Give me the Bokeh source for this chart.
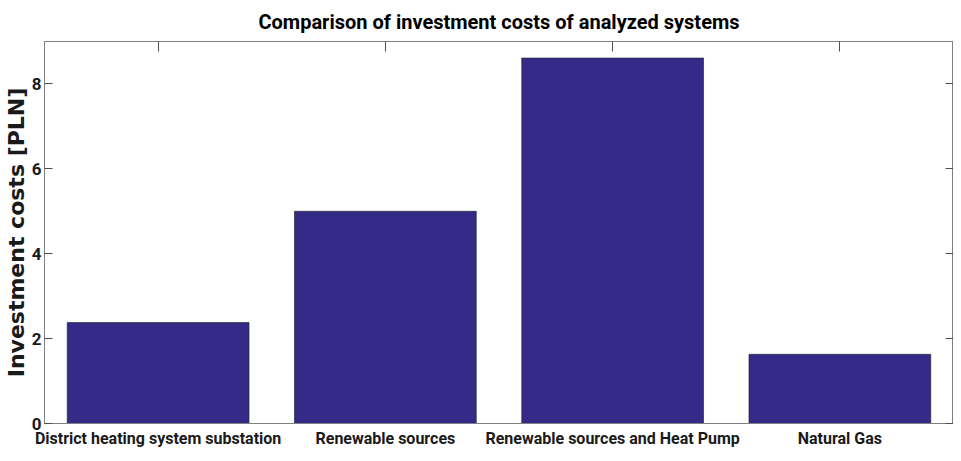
from bokeh.plotting import figure
from bokeh.models import (FactorRange, Range1d, FixedTicker, CustomJSTickFormatter,
                          LinearAxis, CategoricalAxis, Label)
from bokeh.embed import file_html
from bokeh.resources import INLINE

categories = ["District heating system substation", "Renewable sources",
              "Renewable sources and Heat Pump", "Natural Gas"]
costs = [23800, 50000, 86100, 16300]
y_ticks = [0, 20000, 40000, 60000, 80000]
y_max = 90000

BAR = "#352A87"
AX = "#4d4d4d"
FONT = "Roboto"

p = figure(x_range=FactorRange(*categories, range_padding=0),
           y_range=Range1d(0, y_max),
           width=953, height=450, output_backend="svg", toolbar_location=None,
           title="Comparison of investment costs of analyzed systems")

p.vbar(x=categories, top=costs, width=0.8, fill_color=BAR, line_color="#1f1f1f", line_width=0.6)

p.xgrid.visible = False
p.ygrid.visible = False
p.outline_line_color = "#808080"
p.outline_line_width = 1
p.background_fill_color = "white"
p.border_fill_color = "white"

p.title.align = "center"
p.title.text_font = FONT
p.title.text_font_style = "bold"
p.title.text_font_size = "20px"
p.title.text_color = "black"
p.title.standoff = 15

# bottom axis
xa = p.xaxis[0]
xa.major_label_text_font = FONT
xa.major_label_text_font_style = "bold"
xa.major_label_text_font_size = "16px"
xa.major_label_text_color = "#1a1a1a"
xa.major_tick_in = 0
xa.major_tick_out = 0
xa.axis_line_color = "#808080"
xa.major_label_standoff = 5

# left axis
ya = p.yaxis[0]
ya.ticker = FixedTicker(ticks=y_ticks)
ya.formatter = CustomJSTickFormatter(code="return (tick/1e4).toString();")
ya.major_label_text_font = FONT
ya.major_label_text_font_style = "bold"
ya.major_label_text_font_size = "17px"
ya.major_label_text_color = "#1a1a1a"
ya.major_tick_in = 8
ya.major_tick_out = 0
ya.major_tick_line_color = AX
ya.minor_tick_line_color = None
ya.axis_line_color = "#808080"
ya.major_label_standoff = 3
ya.axis_label = "Investment costs [PLN]"
ya.axis_label_text_font = "DejaVu Sans"
ya.axis_label_text_font_style = "bold"
ya.axis_label_text_font_size = "22px"
ya.axis_label_text_color = "#1a1a1a"
ya.axis_label_standoff = 0

# mirrored top and right axes (ticks only)
blank = CustomJSTickFormatter(code="return '';")
top = CategoricalAxis(formatter=blank, major_label_standoff=0, axis_label_standoff=0,
                      major_tick_in=10, major_tick_out=0, major_tick_line_color=AX,
                      axis_line_color="#808080")
p.add_layout(top, "above")
right = LinearAxis(ticker=FixedTicker(ticks=y_ticks), formatter=blank,
                   major_label_standoff=0, axis_label_standoff=0,
                   major_tick_in=8, major_tick_out=0,
                   major_tick_line_color=AX, minor_tick_line_color=None,
                   axis_line_color="#808080")
p.add_layout(right, "right")

p.add_layout(Label(x=0, y=y_max, text="×10", text_font=FONT, text_font_size="15px",
                   text_color="#1a1a1a", x_offset=0, y_offset=3, text_baseline="bottom"))
p.add_layout(Label(x=0, y=y_max, text="4", text_font=FONT, text_font_size="11px",
                   text_color="#1a1a1a", x_offset=31, y_offset=12, text_baseline="bottom"))

p.min_border_left = 10
p.min_border_right = 0
p.min_border_top = 4
p.min_border_bottom = 4

open("out.html", "w").write(file_html(p, INLINE))
